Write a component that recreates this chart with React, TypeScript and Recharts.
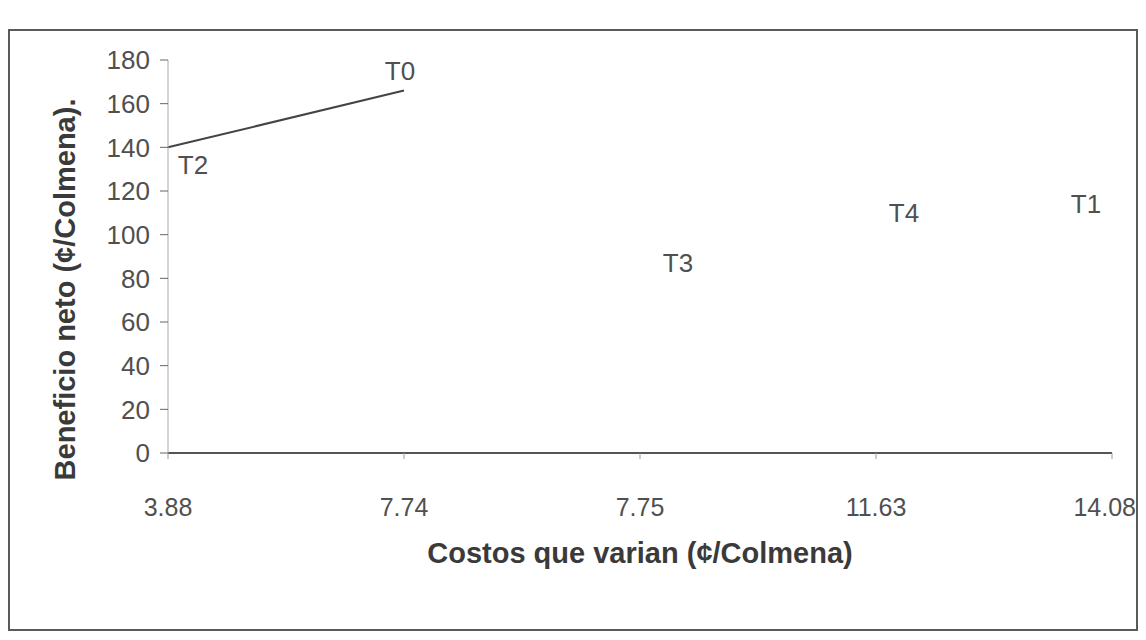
import {
  ComposedChart,
  Line,
  XAxis,
  YAxis,
  Label,
  LabelList,
} from "recharts";

// costos que varian (eje X, categorias)
const costos = ["3.88", "7.74", "7.75", "11.63", "14.08"];
// tratamientos
const tratamientos = ["T2", "T0", "T3", "T4", "T1"];
// beneficio neto por tratamiento
const beneficio = [140, 166, 87, 110, 114];
// curva de beneficios netos (solo T2 -> T0)
const frontera = [140, 166, null, null, null];
const yTicks = [0, 20, 40, 60, 80, 100, 120, 140, 160, 180];

// where each treatment label sits relative to its point
const labelOffsets = [
  { dx: 25, dy: 18 },
  { dx: -4, dy: -20 },
  { dx: 38, dy: 0 },
  { dx: 28, dy: 0 },
  { dx: -26, dy: 0 },
];

const data = costos.map((c, i) => ({
  costo: c,
  trat: tratamientos[i],
  beneficio: beneficio[i],
  frontera: frontera[i],
}));

const FONT = "'Liberation Sans', Arial, sans-serif";
const TEXT = "#505050";

function XTick({ x, y, payload, index }: any) {
  // the last label hugs the right border, as in the original
  const last = index === costos.length - 1;
  return (
    <text
      x={last ? x + 24 : x}
      y={y + 46}
      textAnchor={last ? "end" : "middle"}
      dominantBaseline="central"
      fill={TEXT}
      fontSize={25}
      fontFamily={FONT}
    >
      {payload.value}
    </text>
  );
}

function TratLabel(props: any) {
  const { x, y, value, index } = props;
  const off = labelOffsets[index] ?? { dx: 0, dy: 0 };
  return (
    <text
      x={x + off.dx}
      y={y + off.dy}
      textAnchor="middle"
      dominantBaseline="central"
      fill={TEXT}
      fontSize={26}
      fontFamily={FONT}
    >
      {value}
    </text>
  );
}

function YTitle(props: any) {
  const vb = props.viewBox || { x: 0, y: 0, width: 0, height: 0 };
  const cx = vb.x + 55;
  const cy = vb.y + vb.height / 2 + 33;
  return (
    <text
      x={cx}
      y={cy}
      transform={`rotate(-90, ${cx}, ${cy})`}
      textAnchor="middle"
      dominantBaseline="central"
      fill="#3a3a3a"
      fontSize={29}
      fontWeight="bold"
      fontFamily={FONT}
    >
      Beneficio neto (¢/Colmena).
    </text>
  );
}

function XTitle(props: any) {
  const vb = props.viewBox || { x: 0, y: 0, width: 0, height: 0 };
  const cx = vb.x + vb.width / 2;
  return (
    <text
      x={cx}
      y={vb.y + 100}
      textAnchor="middle"
      dominantBaseline="central"
      fill="#3a3a3a"
      fontSize={29}
      fontWeight="bold"
      fontFamily={FONT}
    >
      Costos que varian (¢/Colmena)
    </text>
  );
}

export default function App() {
  return (
    <div style={{ paddingTop: 21 }}>
      <div
        style={{
          width: 1126,
          height: 598,
          border: "2px solid #5a5a5a",
          background: "#fff",
        }}
      >
        <ComposedChart
          width={1136}
          height={598}
          data={data}
          margin={{ top: 29, right: 34, bottom: 0, left: 0 }}
        >
          <XAxis
            dataKey="costo"
            height={176}
            tick={<XTick />}
            axisLine={{ stroke: "#555", strokeWidth: 2 }}
            tickLine={{ stroke: "#999" }}
            tickSize={6}
            interval={0}
          >
            <Label content={<XTitle />} />
          </XAxis>
          <YAxis
            width={158}
            domain={[0, 180]}
            ticks={yTicks}
            interval={0}
            tick={{ fill: TEXT, fontSize: 26, fontFamily: FONT }}
            axisLine={{ stroke: "#aaa", strokeWidth: 1 }}
            tickLine={{ stroke: "#666" }}
            tickSize={8}
            tickMargin={10}
          >
            <Label content={<YTitle />} />
          </YAxis>
          <Line
            dataKey="frontera"
            stroke="#444"
            strokeWidth={2}
            dot={false}
            activeDot={false}
            isAnimationActive={false}
          />
          <Line
            dataKey="beneficio"
            stroke="none"
            dot={false}
            activeDot={false}
            isAnimationActive={false}
          >
            <LabelList dataKey="trat" content={<TratLabel />} />
          </Line>
        </ComposedChart>
      </div>
    </div>
  );
}
